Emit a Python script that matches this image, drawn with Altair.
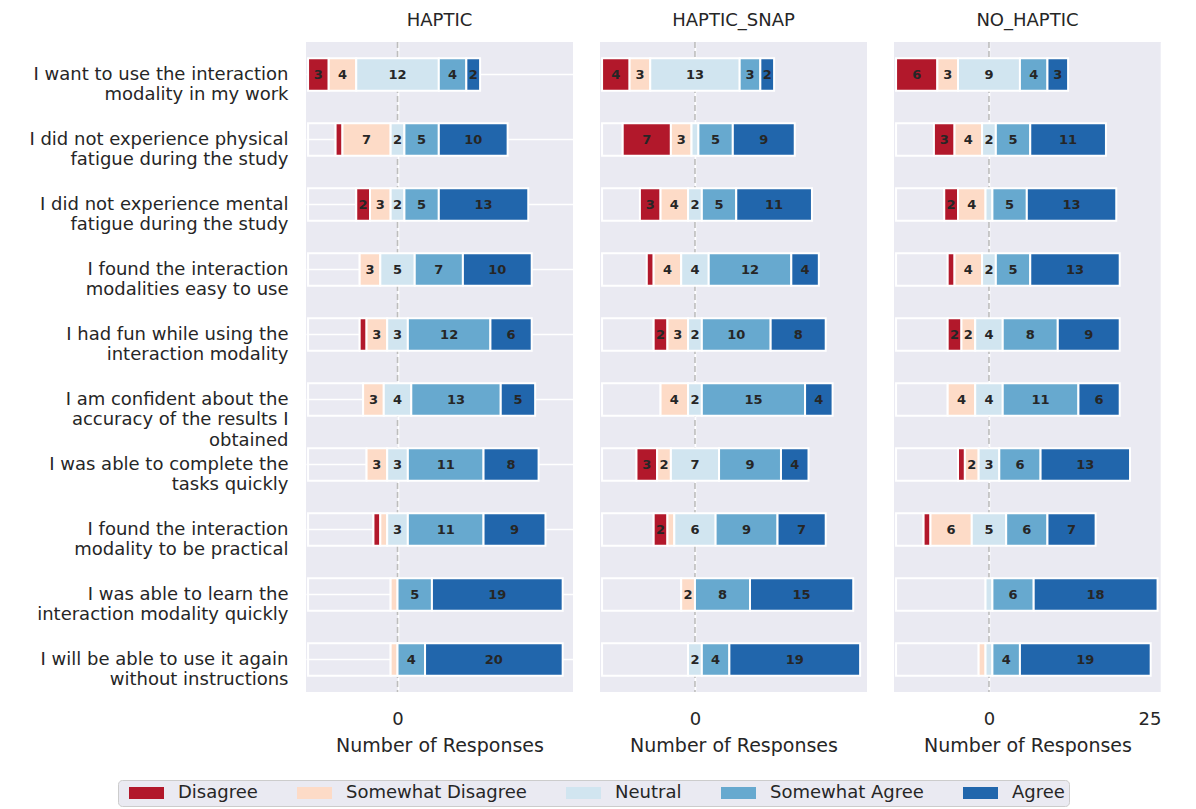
import altair as alt
import pandas as pd

questions = [
    "I want to use the interaction\nmodality in my work",
    "I did not experience physical\nfatigue during the study",
    "I did not experience mental\nfatigue during the study",
    "I found the interaction\nmodalities easy to use",
    "I had fun while using the\ninteraction modality",
    "I am confident about the\naccuracy of the results I\nobtained",
    "I was able to complete the\ntasks quickly",
    "I found the interaction\nmodality to be practical",
    "I was able to learn the\ninteraction modality quickly",
    "I will be able to use it again\nwithout instructions",
]
levels = ["Disagree", "Somewhat Disagree", "Neutral", "Somewhat Agree", "Agree"]
level_colors = ["#b2182b", "#fddbc7", "#d1e5f0", "#67a9cf", "#2166ac"]
conditions = ["HAPTIC", "HAPTIC_SNAP", "NO_HAPTIC"]

haptic_disagree = [3, 1, 2, 0, 1, 0, 0, 1, 0, 0]
haptic_sdisagree = [4, 7, 3, 3, 3, 3, 3, 1, 1, 1]
haptic_neutral = [12, 2, 2, 5, 3, 4, 3, 3, 0, 0]
haptic_sagree = [4, 5, 5, 7, 12, 13, 11, 11, 5, 4]
haptic_agree = [2, 10, 13, 10, 6, 5, 8, 9, 19, 20]

snap_disagree = [4, 7, 3, 1, 2, 0, 3, 2, 0, 0]
snap_sdisagree = [3, 3, 4, 4, 3, 4, 2, 1, 2, 0]
snap_neutral = [13, 1, 2, 4, 2, 2, 7, 6, 0, 2]
snap_sagree = [3, 5, 5, 12, 10, 15, 9, 9, 8, 4]
snap_agree = [2, 9, 11, 4, 8, 4, 4, 7, 15, 19]

nohap_disagree = [6, 3, 2, 1, 2, 0, 1, 1, 0, 0]
nohap_sdisagree = [3, 4, 4, 4, 2, 4, 2, 6, 0, 1]
nohap_neutral = [9, 2, 1, 2, 4, 4, 3, 5, 1, 1]
nohap_sagree = [4, 5, 5, 5, 8, 11, 6, 6, 6, 4]
nohap_agree = [3, 11, 13, 13, 9, 6, 13, 7, 18, 19]

panel_data = {
    "HAPTIC": [haptic_disagree, haptic_sdisagree, haptic_neutral, haptic_sagree, haptic_agree],
    "HAPTIC_SNAP": [snap_disagree, snap_sdisagree, snap_neutral, snap_sagree, snap_agree],
    "NO_HAPTIC": [nohap_disagree, nohap_sdisagree, nohap_neutral, nohap_sagree, nohap_agree],
}

FONT = "DejaVu Sans"
TXT = "#262626"
XDOM = [-0.3, 38.5]


def build(cond):
    series = panel_data[cond]
    lefts = [series[0][i] + series[1][i] + series[2][i] / 2 for i in range(len(questions))]
    middle = max(lefts)
    seg_rows, pad_rows = [], []
    for i, q in enumerate(questions):
        pad = middle - lefts[i]
        if pad > 0:
            pad_rows.append({"question": q, "start": 0.0, "end": pad})
        pos = pad
        for lv, s in zip(levels, series):
            v = s[i]
            if v > 0:
                seg_rows.append({"question": q, "level": lv, "value": v,
                                 "start": pos, "end": pos + v, "mid": pos + v / 2})
            pos += v
    seg = pd.DataFrame(seg_rows)
    pads = pd.DataFrame(pad_rows)

    first = cond == conditions[0]
    last = cond == conditions[-1]
    tick_vals = [middle, middle + 25] if last else [middle]
    xaxis = alt.Axis(values=tick_vals, labelExpr=f"format(datum.value - {middle}, 'd')",
                     grid=True, gridColor="white", gridWidth=1.6, domain=False, ticks=False,
                     labelFontSize=18, labelFont=FONT, labelColor=TXT, labelPadding=18,
                     title="Number of Responses", titleFontSize=19, titleFont=FONT,
                     titleFontWeight="normal", titleColor=TXT, titlePadding=8)
    xscale = alt.Scale(domain=XDOM, nice=False, zero=False)
    yscale = alt.Scale(domain=questions, paddingInner=0.5, paddingOuter=0.25)
    if first:
        yaxis = alt.Axis(title=None, labelExpr="split(datum.label, '\\n')", labelFontSize=18,
                         labelFont=FONT, labelColor=TXT, labelLimit=400, labelPadding=18,
                         labelLineHeight=20.5, ticks=False, domain=False, grid=True,
                         gridColor="white", gridWidth=1.6)
    else:
        yaxis = None

    def X(field):
        return alt.X(field, type="quantitative", scale=xscale, axis=xaxis, title="Number of Responses")

    def Y():
        return alt.Y("question:N", sort=questions, scale=yscale, axis=yaxis)

    rule = alt.Chart(pd.DataFrame({"center": [middle]})).mark_rule(
        color="#bdbdbd", strokeDash=[6, 3], strokeWidth=1.6
    ).encode(x=X("center"))

    padbars = alt.Chart(pads).mark_bar(
        fill="#EAEAF2", fillOpacity=0, stroke="white", strokeWidth=2
    ).encode(x=X("start"), x2="end", y=Y())

    bars = alt.Chart(seg).mark_bar(stroke="white", strokeWidth=2).encode(
        x=X("start"), x2="end", y=Y(),
        color=alt.Color("level:N", scale=alt.Scale(domain=levels, range=level_colors),
                        legend=alt.Legend(
                            title=None, orient="none", direction="horizontal", columns=5,
                            legendX=-188, legendY=738,
                            fillColor="#EAEAF2", strokeColor="#cccccc", cornerRadius=4,
                            padding=4, columnPadding=32, labelOffset=38, labelLimit=400,
                            labelFontSize=18, labelFont=FONT, labelColor=TXT,
                            symbolType="M-0.2857,-0.85H4.714V0.85H-0.2857Z", symbolSize=196,
                            symbolStrokeWidth=0, symbolOpacity=1)),
    )

    labels = alt.Chart(seg[seg["value"] >= 2]).mark_text(
        font=FONT, fontSize=13, fontWeight="bold", color=TXT
    ).encode(x=X("mid"), y=Y(), text="value:Q")

    return alt.layer(rule, padbars, bars, labels).properties(
        width=267, height=650,
        title=alt.Title(cond, fontSize=18, font=FONT, fontWeight="normal", color=TXT, offset=11),
    )


chart = alt.hconcat(*[build(c) for c in conditions], spacing=27).properties(
    padding={"left": 20, "top": 4, "right": 0, "bottom": 0}, background="white"
).configure_view(fill="#EAEAF2", stroke=None)

chart.save("out.html", embed_options={"renderer": "svg", "actions": False})
